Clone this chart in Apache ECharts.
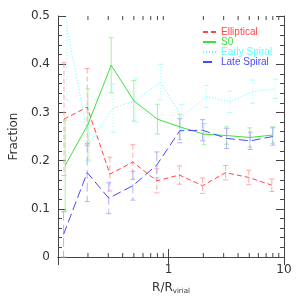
<!DOCTYPE html>
<html><head><meta charset="utf-8">
<script src="https://cdn.jsdelivr.net/npm/echarts@6/dist/echarts.min.js"></script>
<style>html,body{margin:0;padding:0;background:#fff}#c{width:300px;height:300px}</style>
</head><body><div id="c"></div>
<script>
// ---- data ----
const names = ['Elliptical', 'S0', 'Early Spiral', 'Late Spiral'];
const xEll = [0.124, 0.197, 0.31, 0.49, 0.79, 1.24, 1.97, 3.12, 4.95, 7.85];
const vEll = [0.286, 0.311, 0.172, 0.197, 0.158, 0.170, 0.148, 0.175, 0.165, 0.149];
const eEll = [0.117, 0.080, 0.035, 0.036, 0.025, 0.019, 0.016, 0.015, 0.015, 0.013];
const xS0 = [0.127, 0.200, 0.318, 0.500, 0.80, 1.25, 2.02, 3.17, 5.05, 7.97];
const vS0 = [0.190, 0.275, 0.398, 0.324, 0.286, 0.270, 0.255, 0.252, 0.248, 0.253];
const eS0 = [0.094, 0.074, 0.057, 0.042, 0.031, 0.026, 0.022, 0.018, 0.020, 0.017];
const xEarly = [0.131, 0.206, 0.33, 0.52, 0.85, 1.30, 2.12, 3.38, 5.35, 8.4];
const vEarly = [0.477, 0.236, 0.309, 0.325, 0.363, 0.291, 0.333, 0.322, 0.343, 0.349];
const eEarly = [0.151, 0.037, 0.050, 0.045, 0.037, 0.025, 0.023, 0.022, 0.024, 0.020];
const xLate = [0.123, 0.197, 0.303, 0.49, 0.79, 1.25, 1.97, 3.19, 5.1, 8.0];
const vLate = [0.047, 0.175, 0.122, 0.148, 0.191, 0.262, 0.263, 0.246, 0.241, 0.250];
const eLate = [0.047, 0.060, 0.032, 0.030, 0.027, 0.025, 0.022, 0.021, 0.018, 0.018];
const xMajorTickLabels = ['1', '10'];
const xMinorTicks = [0.2, 0.3, 0.4, 0.5, 0.6, 0.7, 0.8, 0.9, 2, 3, 4, 5, 6, 7, 8, 9];

// ---- styles ----
const lineColors = ['#ff4646', '#3ee03e', '#5cffff', '#4848ff'];
const barColors = ['#ffaaaa', '#aaeeaa', '#aaffff', '#b0b0ff'];
const dashes = [[5, 3], null, [1, 2], [9, 4]];
const axisColor = '#444';
const FONT = 'DejaVu Sans';

const groups = [
  [xEll, vEll, eEll], [xS0, vS0, eS0], [xEarly, vEarly, eEarly], [xLate, vLate, eLate]
];

function errRender(color, dash) {
  return function (params, api) {
    const cs = params.coordSys;
    const x = api.value(0), lo = api.value(1), hi = api.value(2);
    const pLo = api.coord([x, lo]);
    const pHi = api.coord([x, hi]);
    const top = cs.y, bot = cs.y + cs.height;
    const yHi = Math.max(pHi[1], top), yLo = Math.min(pLo[1], bot);
    const st = { stroke: color, lineWidth: 1, lineDash: dash || null, fill: null };
    const kids = [{ type: 'line', shape: { x1: pHi[0], y1: yHi, x2: pHi[0], y2: yLo }, style: st }];
    const w = 2.5;
    if (pHi[1] >= top) kids.push({ type: 'line', shape: { x1: pHi[0] - w, y1: pHi[1], x2: pHi[0] + w, y2: pHi[1] }, style: { stroke: color, lineWidth: 1 } });
    if (pLo[1] <= bot) kids.push({ type: 'line', shape: { x1: pLo[0] - w, y1: pLo[1], x2: pLo[0] + w, y2: pLo[1] }, style: { stroke: color, lineWidth: 1 } });
    return { type: 'group', children: kids };
  };
}

const series = [];
groups.forEach((g, k) => {
  const [xs, vs, es] = g;
  series.push({
    type: 'custom', silent: true, z: 1, xAxisIndex: 0, yAxisIndex: 0,
    renderItem: errRender(barColors[k], dashes[k]),
    data: xs.map((x, i) => [x, vs[i] - es[i], vs[i] + es[i]]),
    encode: { x: 0, y: [1, 2] }
  });
});
groups.forEach((g, k) => {
  const [xs, vs] = g;
  series.push({
    name: names[k], type: 'line', z: 3, symbol: 'none', silent: true,
    xAxisIndex: 0, yAxisIndex: 0,
    lineStyle: { color: lineColors[k], width: 1, type: dashes[k] || 'solid' },
    itemStyle: { color: lineColors[k] },
    data: xs.map((x, i) => [x, vs[i]])
  });
});
// minor ticks for the log axes (bottom and top)
series.push({
  type: 'custom', silent: true, z: 4, xAxisIndex: 0, yAxisIndex: 0,
  data: xMinorTicks.map(v => [v, 0]),
  encode: { x: 0, y: 1 },
  renderItem: function (params, api) {
    const cs = params.coordSys;
    const p = api.coord([api.value(0), 0]);
    const st = { stroke: axisColor, lineWidth: 1 };
    return { type: 'group', children: [
      { type: 'line', shape: { x1: p[0], y1: cs.y + cs.height, x2: p[0], y2: cs.y + cs.height - 4 }, style: st },
      { type: 'line', shape: { x1: p[0], y1: cs.y, x2: p[0], y2: cs.y + 4 }, style: st }
    ] };
  }
});

function xLabel(v) {
  for (const s of xMajorTickLabels) { if (Math.abs(v - Number(s)) < 1e-6 * Number(s)) return s; }
  return '';
}

const xBase = {
  type: 'log', logBase: 10, min: 0.11, max: 10,
  axisLine: { show: true, lineStyle: { color: axisColor, width: 1 } },
  axisTick: { show: true, inside: true, length: 8, lineStyle: { color: axisColor } },
  splitLine: { show: false }
};
const yBase = {
  type: 'value', min: 0, max: 0.5, interval: 0.1,
  axisLine: { show: true, lineStyle: { color: axisColor, width: 1 } },
  axisTick: { show: true, inside: true, length: 8, lineStyle: { color: axisColor } },
  minorTick: { show: true, splitNumber: 5, length: 4, lineStyle: { color: axisColor } },
  splitLine: { show: false }, minorSplitLine: { show: false }
};

const option = {
  animation: false,
  backgroundColor: '#fff',
  grid: { left: 51, right: 16, top: 16, bottom: 33, containLabel: false },
  legend: {
    orient: 'vertical', left: 202, top: 27, itemWidth: 13, itemHeight: 9, itemGap: 0,
    padding: 0, selectedMode: false,
    itemStyle: { opacity: 0 },
    textStyle: { fontFamily: 'Liberation Sans', fontSize: 10, lineHeight: 9 },
    data: names.map((n, k) => ({ name: n, textStyle: { color: lineColors[k] } }))
  },
  xAxis: [
    Object.assign({}, xBase, {
      position: 'bottom',
      axisLabel: { show: true, formatter: xLabel, margin: 7, color: '#333', fontFamily: FONT, fontSize: 12 },
      name: '{a|R/R}{b|virial}', nameLocation: 'middle', nameGap: 24,
      nameTextStyle: {
        rich: {
          a: { fontFamily: FONT, fontSize: 12, color: '#333', lineHeight: 14 },
          b: { fontFamily: FONT, fontSize: 7, color: '#333', lineHeight: 14, padding: [7, 0, 0, 0] }
        }
      }
    }),
    Object.assign({}, xBase, { position: 'top', axisLabel: { show: false } })
  ],
  yAxis: [
    Object.assign({}, yBase, {
      position: 'left',
      axisLabel: { show: true, margin: 8, color: '#333', fontFamily: FONT, fontSize: 12 },
      name: 'Fraction', nameLocation: 'middle', nameGap: 34,
      nameTextStyle: { fontFamily: FONT, fontSize: 12, color: '#333' }
    }),
    Object.assign({}, yBase, { position: 'right', axisLabel: { show: false } })
  ],
  series: series
};
const chart = echarts.init(document.getElementById('c'), null, { renderer: 'canvas' });
chart.setOption(option);
</script></body></html>
